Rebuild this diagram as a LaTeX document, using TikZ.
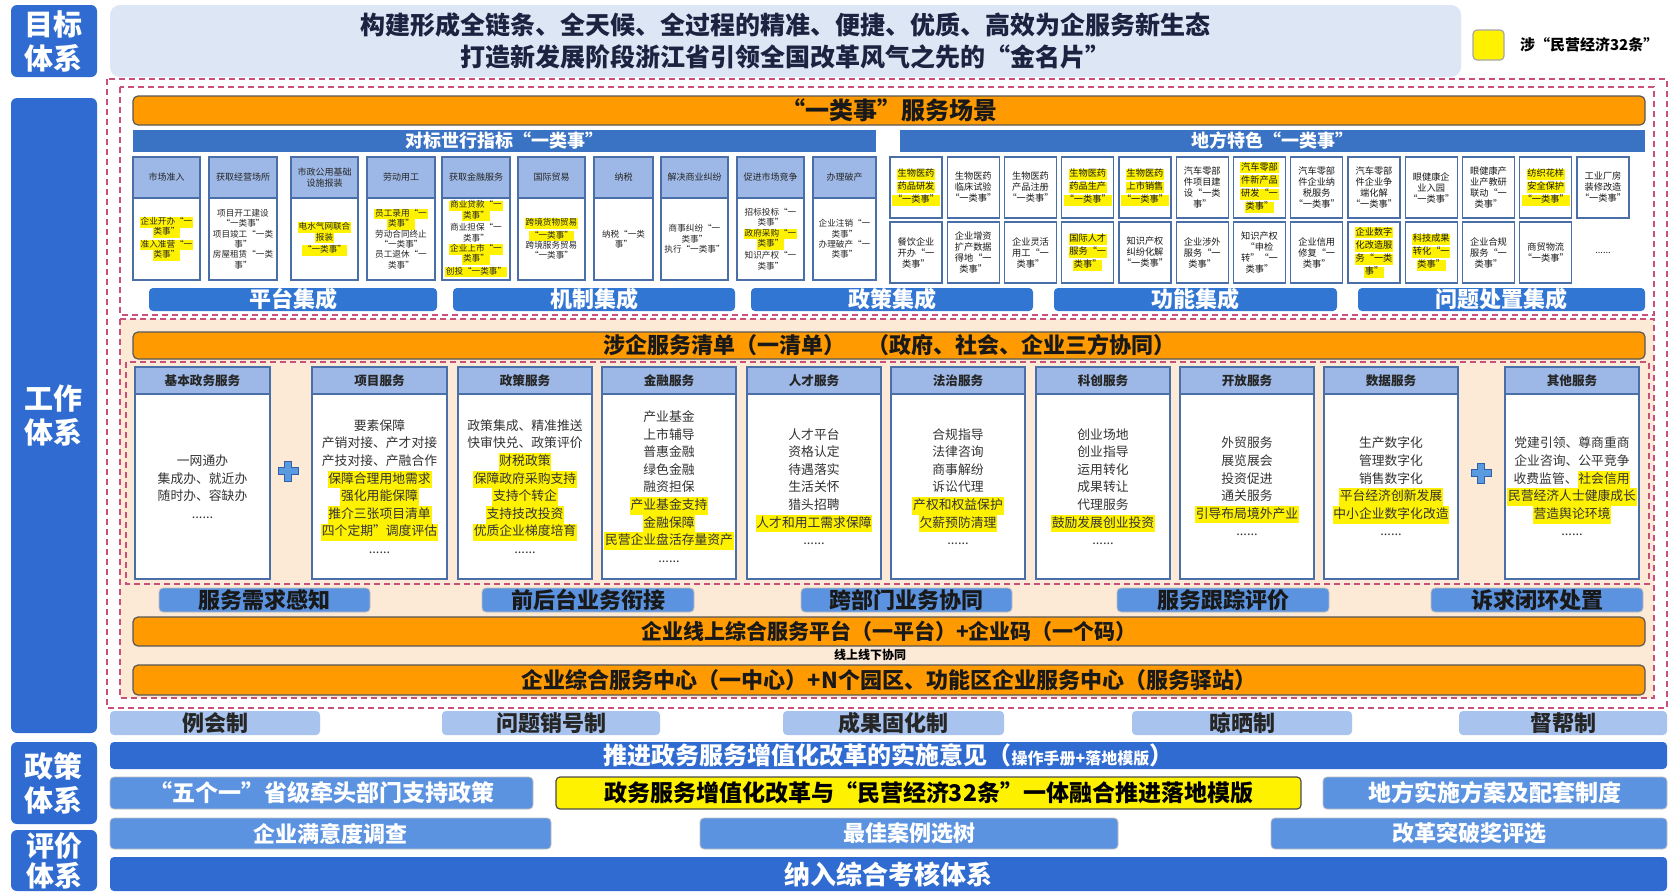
\documentclass[tikz,border=0pt]{standalone}
\usepackage{fontspec}
\setmainfont{Noto Sans CJK SC}
\usepackage{xcolor}
\definecolor{labblue}{HTML}{2F6BD0}
\definecolor{barblue}{HTML}{3A72C4}
\definecolor{intblue}{HTML}{3276D4}
\definecolor{midblue}{HTML}{5B93E0}
\definecolor{lightblue}{HTML}{A7C3EE}
\definecolor{headblue}{HTML}{9DB8E6}
\definecolor{cardline}{HTML}{4A6EA8}
\definecolor{orangeb}{HTML}{FF9A00}
\definecolor{peach}{HTML}{FCEAD6}
\definecolor{bannerbg}{HTML}{DCE6F5}
\definecolor{dashpink}{HTML}{C8507A}
\definecolor{navytext}{HTML}{1C2340}
\definecolor{plusblue}{HTML}{5A9BE0}
\definecolor{plusedge}{HTML}{2F5FA8}
\newcommand\hl[1]{\begingroup\setlength\fboxsep{0pt}\colorbox{yellow}{\kern0.4pt\strut#1\kern0.4pt}\endgroup}
\newcommand\bx[7]{\node[#2,minimum width={(#5-#3)*0.5pt},minimum height={(#6-#4)*0.5pt}] (#1) at ({(#3+#5)/2},{(#4+#6)/2}) {#7};}
\tikzset{
 every node/.style={inner sep=0pt,outer sep=0pt},
 lab/.style={fill=labblue,rounded corners=3pt,text=white,font=\fontsize{14.5}{17}\selectfont\bfseries,align=center},
 pinkdash/.style={draw=dashpink,densely dashed,line width=0.6pt},
 chead/.style={draw=cardline,fill=headblue,line width=0.6pt,align=center,font=\fontsize{4.5}{5.4}\selectfont,text=black!85},
 cbody/.style={draw=cardline,fill=white,line width=0.6pt,align=center,font=\fontsize{4.3}{5.2}\selectfont,text=black!85},
 rcard/.style={draw=cardline,fill=white,line width=0.7pt,align=center,font=\fontsize{4.6}{5.5}\selectfont,text=black!90},
 rplain/.style={align=center,font=\fontsize{4.6}{5.5}\selectfont,text=black!85},
 shead/.style={draw=cardline,fill=headblue,line width=0.7pt,align=center,font=\fontsize{6.3}{7}\selectfont\bfseries,text=black!85},
 sbody/.style={draw=cardline,fill=white,line width=0.7pt,align=center,font=\fontsize{6.4}{8.8}\selectfont,text=black!80},
 obar/.style={draw=gray!70!black,fill=orangeb,line width=0.6pt,rounded corners=2.5pt,font=\fontsize{11}{12}\selectfont\bfseries,text=black!90},
 tbar/.style={fill=barblue,text=white,font=\fontsize{9}{10}\selectfont\bfseries},
 ibar/.style={fill=intblue,rounded corners=2pt,text=white,font=\fontsize{11}{12}\selectfont\bfseries},
 pbar/.style={fill=midblue,draw=gray!50,line width=0.4pt,rounded corners=2pt,text=black!90,font=\fontsize{11}{12}\selectfont\bfseries},
 mbar/.style={fill=lightblue,rounded corners=2pt,text=black!85,font=\fontsize{11}{12}\selectfont\bfseries},
 dbar/.style={fill=labblue,rounded corners=2pt,text=white,font=\fontsize{12}{13}\selectfont\bfseries},
 mblue/.style={fill=midblue,draw=gray!50,line width=0.4pt,rounded corners=2pt,text=white,font=\fontsize{11.5}{12.5}\selectfont\bfseries},
 ybar/.style={fill=yellow,draw=gray!60!black,line width=0.6pt,rounded corners=2pt,text=black,font=\fontsize{11.5}{12.5}\selectfont\bfseries},
 plusshape/.style={fill=plusblue,draw=plusedge,line width=0.5pt}
}
\begin{document}
\begin{tikzpicture}[x=0.5pt,y=-0.5pt]
\useasboundingbox (0,0) rectangle (1670,891);
\fill[white] (0,0) rectangle (1670,891);
% ---------- labels ----------
\bx{labA}{lab}{11}{5}{97}{77}{目标\\体系}
\bx{labB}{lab}{11}{98}{97}{733}{工作\\体系}
\bx{labC}{lab}{11}{742}{97}{824}{政策\\体系}
\bx{labD}{lab,font=\fontsize{14}{15}\selectfont\bfseries}{11}{830}{97}{891}{评价\\体系}
% ---------- goal banner ----------
\bx{goal}{fill=bannerbg,rounded corners=5pt,align=center,text=navytext,font=\fontsize{12.5}{16}\selectfont\bfseries}{110}{5}{1461}{77}{构建形成全链条、全天候、全过程的精准、便捷、优质、高效为企服务新生态\\打造新发展阶段浙江省引领全国改革风气之先的“金名片”}
\bx{legbox}{fill=yellow,draw=gray!70,line width=0.6pt,rounded corners=2pt}{1473}{30}{1504}{60}{}
\node[anchor=west,font=\fontsize{7.5}{9}\selectfont\bfseries,text=black] (legtxt) at (1520,45) {涉“民营经济32条”};
% ---------- dashed frames and peach area ----------
\draw[pinkdash] (107,79) rectangle (1667,708);
\draw[pinkdash] (120,87) rectangle (1654,315);
\fill[peach] (120,319) rectangle (1654,698);
\draw[pinkdash] (120,319) rectangle (1654,698);
\draw[pinkdash] (126,362) rectangle (1649,584);
% ---------- 一类事 ----------
\bx{scene}{obar,font=\fontsize{12}{13}\selectfont\bfseries}{133}{96}{1645}{125}{“一类事”服务场景}
\bx{wb}{tbar}{133}{130}{876}{152}{对标世行指标“一类事”}
\bx{df}{tbar}{900}{130}{1645}{152}{地方特色“一类事”}
% left cards
\bx{h1}{chead}{133}{157}{200}{198}{市场准入}
\bx{b1}{cbody}{133}{198}{200}{280}{\hl{企业开办“一}\\\hl{类事”}\\\hl{准入准营“一}\\\hl{类事”}}
\bx{h2}{chead}{209}{157}{277}{198}{获取经营场所}
\bx{b2}{cbody}{209}{198}{277}{280}{项目开工建设\\“一类事”\\项目竣工“一类\\事”\\房屋租赁“一类\\事”}
\bx{h3}{chead}{291}{157}{358}{198}{市政公用基础\\设施报装}
\bx{b3}{cbody}{291}{198}{358}{280}{\hl{电水气网联合}\\\hl{报装}\\\hl{“一类事”}}
\bx{h4}{chead}{367}{157}{435}{198}{劳动用工}
\bx{b4}{cbody}{367}{198}{435}{280}{\hl{员工录用“一}\\\hl{类事”}\\劳动合同终止\\“一类事”\\员工退休“一\\类事”}
\bx{h5}{chead}{442}{157}{510}{198}{获取金融服务}
\bx{b5}{cbody}{442}{198}{510}{280}{\hl{商业贷款“一}\\\hl{类事”}\\商业担保“一\\类事”\\\hl{企业上市“一}\\\hl{类事”}\\\hl{创投“一类事”}}
\bx{h6}{chead}{518}{157}{585}{198}{国际贸易}
\bx{b6}{cbody}{518}{198}{585}{280}{\hl{跨境货物贸易}\\\hl{“一类事”}\\跨境服务贸易\\“一类事”}
\bx{h7}{chead}{594}{157}{653}{198}{纳税}
\bx{b7}{cbody}{594}{198}{653}{280}{纳税“一类\\事”}
\bx{h8}{chead}{661}{157}{728}{198}{解决商业纠纷}
\bx{b8}{cbody}{661}{198}{728}{280}{商事纠纷“一\\类事”\\执行“一类事”}
\bx{h9}{chead}{737}{157}{804}{198}{促进市场竞争}
\bx{b9}{cbody}{737}{198}{804}{280}{招标投标“一\\类事”\\\hl{政府采购“一}\\\hl{类事”}\\知识产权“一\\类事”}
\bx{h10}{chead}{813}{157}{876}{198}{办理破产}
\bx{b10}{cbody}{813}{198}{876}{280}{企业注销“一\\类事”\\办理破产“一\\类事”}
% right cards
\foreach \t [count=\i from 0] in {
 {\hl{生物医药}\\\hl{药品研发}\\\hl{“一类事”}},
 {生物医药\\临床试验\\“一类事”},
 {生物医药\\产品注册\\“一类事”},
 {\hl{生物医药}\\\hl{药品生产}\\\hl{“一类事”}},
 {\hl{生物医药}\\\hl{上市销售}\\\hl{“一类事”}},
 {汽车零部\\件项目建\\设“一类\\事”},
 {\hl{汽车零部}\\\hl{件新产品}\\\hl{研发“一}\\\hl{类事”}},
 {汽车零部\\件企业纳\\税服务\\“一类事”},
 {汽车零部\\件企业争\\端化解\\“一类事”},
 {眼健康企\\业入园\\“一类事”},
 {眼健康产\\业产教研\\联动“一\\类事”},
 {\hl{纺织花样}\\\hl{安全保护}\\\hl{“一类事”}},
 {工业厂房\\装修改造\\“一类事”}}{
 \pgfmathsetmacro\xa{890+57.25*\i}
 \bx{ra\i}{rcard}{\xa}{157}{\xa+52}{218}{\t}
}
\foreach \t [count=\i from 0] in {
 {餐饮企业\\开办“一\\类事”},
 {企业增资\\扩产数据\\得地“一\\类事”},
 {企业灵活\\用工“一\\类事”},
 {\hl{国际人才}\\\hl{服务“一}\\\hl{类事”}},
 {知识产权\\纠纷化解\\“一类事”},
 {企业涉外\\服务“一\\类事”},
 {知识产权\\“申检\\转”“一\\类事”},
 {企业信用\\修复“一\\类事”},
 {\hl{企业数字}\\\hl{化改造服}\\\hl{务“一类}\\\hl{事”}},
 {\hl{科技成果}\\\hl{转化“一}\\\hl{类事”}},
 {企业合规\\服务“一\\类事”},
 {商贸物流\\“一类事”}}{
 \pgfmathsetmacro\xa{890+57.25*\i}
 \bx{rb\i}{rcard}{\xa}{222}{\xa+52}{283}{\t}
}
\bx{rb12}{rplain}{1577}{222}{1629}{283}{......}
% integration bars
\bx{i1}{ibar}{149}{288}{437}{311}{平台集成}
\bx{i2}{ibar}{453}{288}{735}{311}{机制集成}
\bx{i3}{ibar}{751}{288}{1033}{311}{政策集成}
\bx{i4}{ibar}{1054}{288}{1337}{311}{功能集成}
\bx{i5}{ibar}{1358}{288}{1645}{311}{问题处置集成}
% ---------- service list ----------
\bx{list}{obar}{133}{332}{1645}{359}{涉企服务清单（一清单）\quad（政府、社会、企业三方协同）}
\bx{s1h}{shead}{135}{367}{270}{394}{基本政务服务}
\bx{s1b}{sbody}{135}{394}{270}{579}{一网通办\\集成办、就近办\\随时办、容缺办\\......}
\bx{s2h}{shead}{312}{367}{447}{394}{项目服务}
\bx{s2b}{sbody}{312}{394}{447}{579}{要素保障\\产销对接、产才对接\\产技对接、产融合作\\\hl{保障合理用地需求}\\\hl{强化用能保障}\\\hl{推介三张项目清单}\\\hl{四个定期”调度评估}\\......}
\bx{s3h}{shead}{458}{367}{592}{394}{政策服务}
\bx{s3b}{sbody}{458}{394}{592}{579}{政策集成、精准推送\\快审快兑、政策评价\\\hl{财税政策}\\\hl{保障政府采购支持}\\\hl{支持个转企}\\\hl{支持技改投资}\\\hl{优质企业梯度培育}\\......}
\bx{s4h}{shead}{602}{367}{736}{394}{金融服务}
\bx{s4b}{sbody}{602}{394}{736}{579}{产业基金\\上市辅导\\普惠金融\\绿色金融\\融资担保\\\hl{产业基金支持}\\\hl{金融保障}\\\hl{民营企业盘活存量资产}\\......}
\bx{s5h}{shead}{747}{367}{881}{394}{人才服务}
\bx{s5b}{sbody}{747}{394}{881}{579}{人才平台\\资格认定\\待遇落实\\生活关怀\\猎头招聘\\\hl{人才和用工需求保障}\\......}
\bx{s6h}{shead}{891}{367}{1025}{394}{法治服务}
\bx{s6b}{sbody}{891}{394}{1025}{579}{合规指导\\法律咨询\\商事解纷\\诉讼代理\\\hl{产权和权益保护}\\\hl{欠薪预防清理}\\......}
\bx{s7h}{shead}{1036}{367}{1170}{394}{科创服务}
\bx{s7b}{sbody}{1036}{394}{1170}{579}{创业场地\\创业指导\\运用转化\\成果转让\\代理服务\\\hl{鼓励发展创业投资}\\......}
\bx{s8h}{shead}{1180}{367}{1314}{394}{开放服务}
\bx{s8b}{sbody}{1180}{394}{1314}{579}{外贸服务\\展览展会\\投资促进\\通关服务\\\hl{引导布局境外产业}\\......}
\bx{s9h}{shead}{1324}{367}{1458}{394}{数据服务}
\bx{s9b}{sbody}{1324}{394}{1458}{579}{生产数字化\\管理数字化\\销售数字化\\\hl{平台经济创新发展}\\\hl{中小企业数字化改造}\\......}
\bx{s10h}{shead}{1505}{367}{1639}{394}{其他服务}
\bx{s10b}{sbody}{1505}{394}{1639}{579}{党建引领、尊商重商\\企业咨询、公平竞争\\收费监管、\hl{社会信用}\\\hl{民营经济人士健康成长}\\\hl{营造舆论环境}\\......}
% plus signs
\draw[plusshape,shift={(288,471)}] (-3.8,-10) -- (3.8,-10) -- (3.8,-3.8) -- (10,-3.8) -- (10,3.8) -- (3.8,3.8) -- (3.8,10) -- (-3.8,10) -- (-3.8,3.8) -- (-10,3.8) -- (-10,-3.8) -- (-3.8,-3.8) -- cycle;
\draw[plusshape,shift={(1481,473)}] (-3.8,-10) -- (3.8,-10) -- (3.8,-3.8) -- (10,-3.8) -- (10,3.8) -- (3.8,3.8) -- (3.8,10) -- (-3.8,10) -- (-3.8,3.8) -- (-10,3.8) -- (-10,-3.8) -- (-3.8,-3.8) -- cycle;
% process bars
\bx{p1}{pbar}{159}{588}{370}{612}{服务需求感知}
\bx{p2}{pbar}{482}{588}{694}{612}{前后台业务衔接}
\bx{p3}{pbar}{801}{588}{1012}{612}{跨部门业务协同}
\bx{p4}{pbar}{1117}{588}{1329}{612}{服务跟踪评价}
\bx{p5}{pbar}{1431}{588}{1643}{612}{诉求闭环处置}
% platform bars
\bx{plat}{obar,font=\fontsize{10.5}{11.5}\selectfont\bfseries}{133}{617}{1645}{646}{企业线上综合服务平台（一平台）+企业码（一个码）}
\node[font=\fontsize{6}{7}\selectfont\bfseries,text=black] (olo) at (870,655) {线上线下协同};
\bx{center}{obar}{133}{665}{1645}{695}{企业综合服务中心（一中心）+N个园区、功能区企业服务中心（服务驿站）}
% ---------- mechanisms ----------
\bx{m1}{mbar}{110}{711}{320}{735}{例会制}
\bx{m2}{mbar}{442}{711}{660}{735}{问题销号制}
\bx{m3}{mbar}{783}{711}{1004}{735}{成果固化制}
\bx{m4}{mbar}{1132}{711}{1352}{735}{晾晒制}
\bx{m5}{mbar}{1459}{711}{1667}{735}{督帮制}
% ---------- policy ----------
\bx{pol}{dbar}{110}{742}{1667}{769}{推进政务服务增值化改革的实施意见（{\fontsize{8}{9}\selectfont 操作手册+落地模版}）}
\bx{pol1}{mblue}{110}{777}{533}{809}{“五个一”省级牵头部门支持政策}
\bx{pol2}{ybar}{556}{777}{1301}{809}{政务服务增值化改革与“民营经济32条”一体融合推进落地模版}
\bx{pol3}{mblue}{1323}{777}{1667}{809}{地方实施方案及配套制度}
% ---------- evaluation ----------
\bx{ev1}{mblue,font=\fontsize{11}{12}\selectfont\bfseries}{110}{818}{551}{849}{企业满意度调查}
\bx{ev2}{mblue,font=\fontsize{11}{12}\selectfont\bfseries}{700}{818}{1118}{849}{最佳案例选树}
\bx{ev3}{mblue,font=\fontsize{11}{12}\selectfont\bfseries}{1271}{818}{1667}{849}{改革突破奖评选}
\bx{ev4}{dbar,font=\fontsize{13}{14}\selectfont\bfseries}{110}{857}{1667}{891}{纳入综合考核体系}
\end{tikzpicture}
\end{document}
